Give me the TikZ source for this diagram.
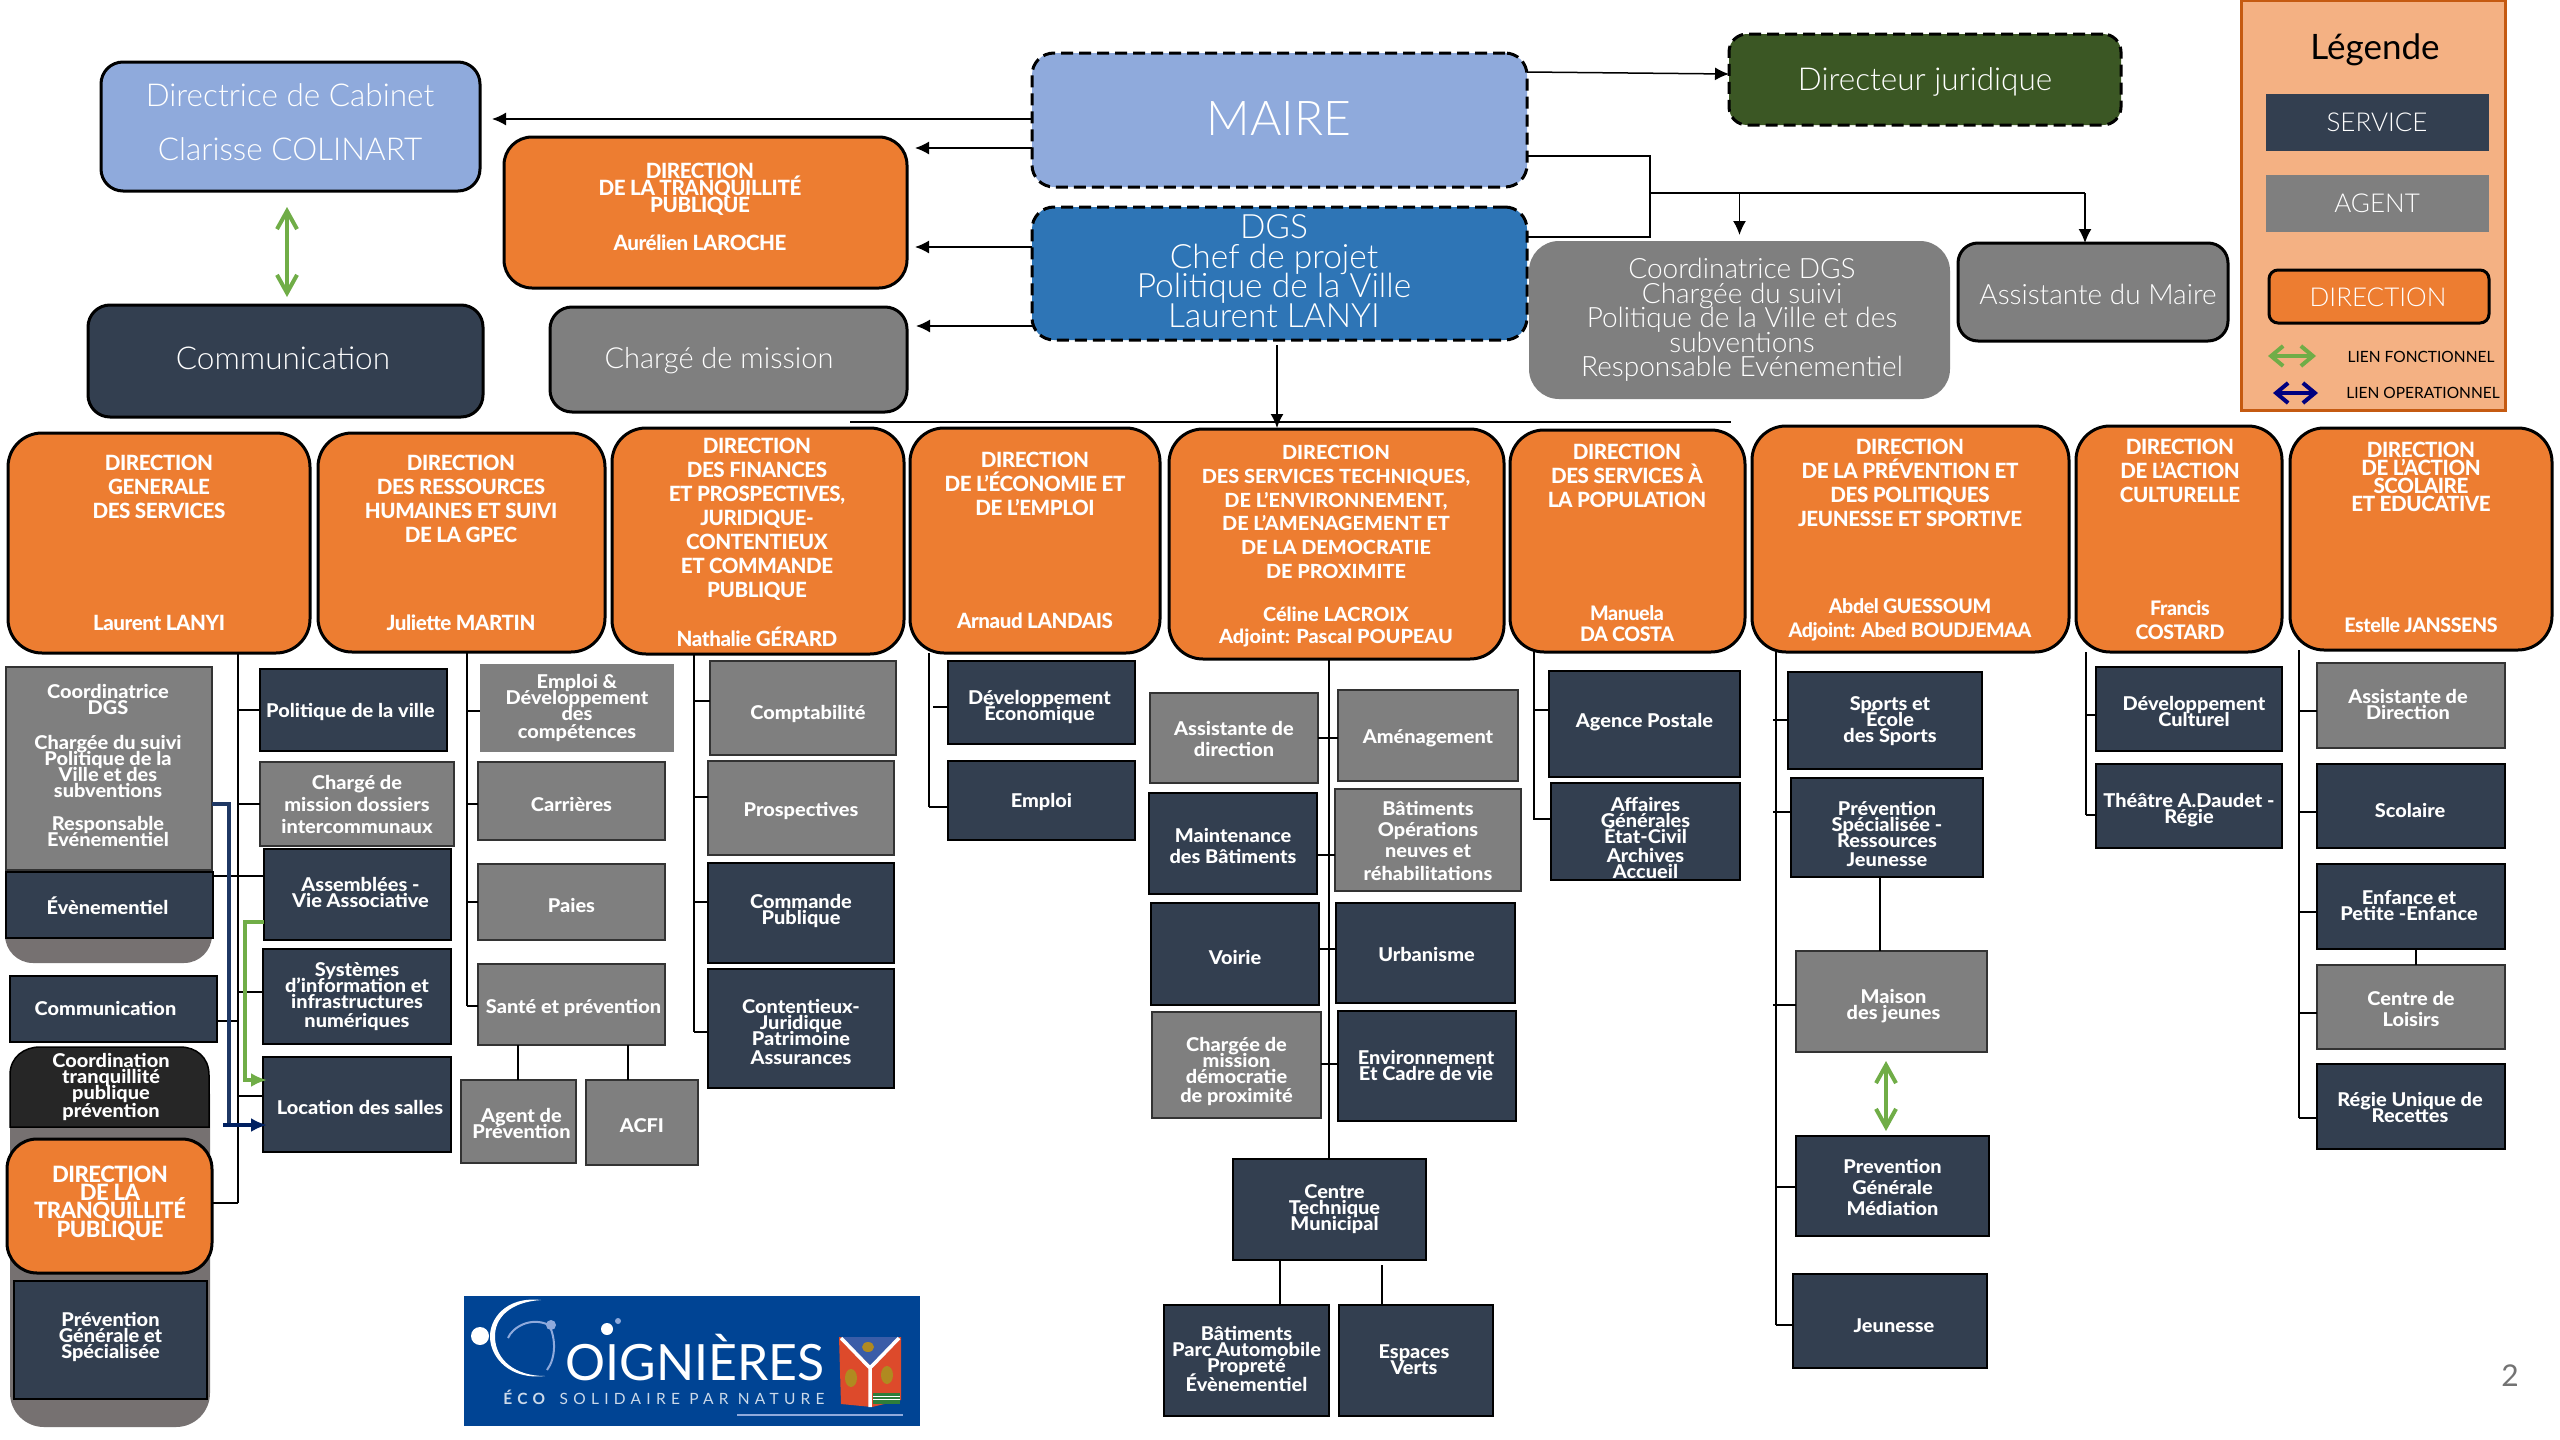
\documentclass[tikz,border=0pt]{standalone}
\usepackage{fontspec}
\usetikzlibrary{arrows.meta}
\setmainfont{Lato}
\newfontfamily\latoC[LetterSpace=-2,FakeStretch=0.98]{Lato Heavy}
\newfontfamily\latoD[FakeStretch=1.02]{Lato Heavy}
\newfontfamily\latoS[FakeStretch=1.05]{Lato Heavy}
\newfontfamily\latoL{Lato Light}
\newfontfamily\latoW[LetterSpace=34]{Lato}
\definecolor{navy}{HTML}{333F50}
\definecolor{agent}{HTML}{7F7F7F}
\definecolor{orange}{HTML}{ED7D31}
\definecolor{lblue}{HTML}{8FAADC}
\definecolor{dblue}{HTML}{2E75B6}
\definecolor{dgreen}{HTML}{3B5724}
\definecolor{legbg}{HTML}{F4B183}
\definecolor{legbd}{HTML}{C55A11}
\definecolor{under}{HTML}{767171}
\definecolor{gr}{HTML}{70AD47}
\definecolor{opblue}{HTML}{1F3864}
\definecolor{opblue2}{HTML}{002060}
\definecolor{logob}{HTML}{004494}
\definecolor{logop}{HTML}{8FAADC}
\definecolor{crestr}{HTML}{DD4A2B}
\definecolor{crestb}{HTML}{3A5DA8}
\definecolor{crestg}{HTML}{B08A20}
\definecolor{crestv}{HTML}{2E7D3A}
\newcommand\fs[2]{\fontsize{#1}{#2}\selectfont\lineskiplimit=-100pt\lineskip=0pt\relax}
% [dx,dy]{name}{box style}{x1}{y1}{x2}{y2}{text}
\newcommand\BX[8][0,0]{%
  \node[#3, minimum width={(#6)-(#4)}, minimum height={(#7)-(#5)}] (#2) at ({((#4)+(#6))/2},{((#5)+(#7))/2}) {};
  \node[lab] (#2t) at ([shift={(0,3)},shift={(#1)}]#2.center) {#8};}
\tikzset{
  x=1pt,y=-1pt,
  every node/.style={inner sep=0pt,outer sep=0pt},
  lab/.style={text=white,align=center,font=\latoS\fs{19}{16}},
  svc/.style={draw=black,line width=1.5pt,fill=navy},
  agt/.style={draw=black!80,line width=1.5pt,fill=agent},
  agtn/.style={fill=agent},
  dirb/.style={draw=black,line width=3pt,fill=orange,rounded corners=34pt},
  dirs/.style={draw=black,line width=3pt,fill=orange,rounded corners=28pt},
  dtt/.style={text=white,align=center,font=\latoC\fs{21}{24}},
  big/.style={text=white,align=center,font=\latoL\fs{31.5}{30}},
  cn/.style={draw=black,line width=1.5pt},
  arr/.style={cn,-{Latex[length=14pt,width=13pt]}},
  gd/.style={draw=gr,line width=4pt,{Straight Barb[length=18pt,width=20pt,line width=4pt]}-{Straight Barb[length=18pt,width=20pt,line width=4pt]}},
}
\begin{document}
\begin{tikzpicture}
\useasboundingbox (0,0) rectangle (2560,1440);
\fill[white] (0,0) rectangle (2560,1440);

% ---------- top level
\BX{cab}{draw=black,line width=3pt,fill=lblue,rounded corners=22pt}{101}{62}{480}{191}{}
\node[big] (cab1) at (290,95) {Directrice de Cabinet};
\node[big] (cab2) at (290,149) {Clarisse COLINART};
\BX{com}{draw=black,line width=3pt,fill=navy,rounded corners=22pt}{88}{305}{483}{417}{}
\node[big] (com1) at (283,358) {Communication};
\BX{tq}{dirs}{504}{137}{907}{288}{}
\node[dtt,font=\latoC\fs{21}{17}] (tq1) at (700,189) {DIRECTION\\DE LA TRANQUILLITÉ\\PUBLIQUE};
\node[dtt] (tq2) at (700,243) {Aurélien LAROCHE};
\BX{cm}{draw=black,line width=3pt,fill=agent,rounded corners=22pt}{550}{307}{907}{412}{}
\node[big,font=\latoL\fs{29}{30}] (cm1) at (719,361) {Chargé de mission};
\BX{maire}{draw=black,line width=3pt,dash pattern=on 12pt off 6pt,fill=lblue,rounded corners=22pt}{1032}{53}{1527}{187}{}
\node[big,font=\latoL\fs{48}{48}] (maire1) at (1279,119) {MAIRE};
\BX{dgs}{draw=black,line width=3pt,dash pattern=on 12pt off 6pt,fill=dblue,rounded corners=22pt}{1032}{207}{1527}{340}{}
\node[big,font=\latoL\fs{33.5}{29.5}] (dgs1) at (1274,271) {DGS\\Chef de projet\\Politique de la Ville\\Laurent LANYI};
\BX{jur}{draw=black,line width=3pt,dash pattern=on 12pt off 6pt,fill=dgreen,rounded corners=18pt}{1729}{34}{2121}{125}{}
\node[big] (jur1) at (1925,82) {Directeur juridique};
\BX{cod}{fill=agent,rounded corners=30pt}{1529}{241}{1950}{399}{}
\node[big,font=\latoL\fs{28}{24.5}] (cod1) at (1742,320) {Coordinatrice DGS\\Chargée du suivi\\Politique de la Ville et des\\subventions\\Responsable Evénementiel};
\BX{asm}{draw=black,line width=3pt,fill=agent,rounded corners=20pt}{1958}{243}{2228}{341}{}
\node[big,font=\latoL\fs{28}{28}] (asm1) at (2098,294) {Assistante du Maire};

% top connectors
\draw[arr] (maire.west |- 0,119) -- ([xshift=12pt]cab.east |- 0,119);
\draw[arr] (maire.west |- 0,148) -- ([xshift=8pt]tq.east |- 0,148);
\draw[arr] (dgs.west |- 0,247) -- ([xshift=8pt]tq.east |- 0,247);
\draw[arr] (dgs.west |- 0,326) -- ([xshift=9pt]cm.east |- 0,326);
\draw[arr] (maire.east |- 0,72) -- (jur.west |- 0,74);
\coordinate (sp) at (1650,193);
\coordinate (sp2) at (2085,193);
\draw[cn] (maire.east |- 0,156) -| (sp) |- (dgs.east |- 0,237);
\draw[cn,line width=2pt] (sp) -- (sp2);
\draw[arr] (cod.north |- sp) -- ([yshift=6pt]cod.north);
\draw[arr] (sp2) -- (sp2 |- asm.north);
\draw[arr] (dgs.south -| 1277,0) ++(0,5) -- (1277,428);
\draw[gd] (287,207) -- (287,297);
\draw[cn,line width=2pt] (850,422) -- (1731,422);

% ---------- directions
\BX{D1}{dirb}{8}{433}{310}{653}{}
\node[dtt] (D1a) at (159,487) {DIRECTION\\GENERALE\\DES SERVICES};
\node[dtt] (D1b) at (159,623) {Laurent LANYI};
\BX{D2}{dirb}{318}{433}{605}{652}{}
\node[dtt] (D2a) at (461,499) {DIRECTION\\DES RESSOURCES\\HUMAINES ET SUIVI\\DE LA GPEC};
\node[dtt] (D2b) at (461,623) {Juliette MARTIN};
\BX{D3}{dirb}{612}{428}{904}{654}{}
\node[dtt] (D3a) at (757,519) {DIRECTION\\DES FINANCES\\ET PROSPECTIVES,\\JURIDIQUE-\\CONTENTIEUX\\ET COMMANDE\\PUBLIQUE};
\node[dtt] (D3b) at (757,637) {Nathalie GÉRARD};
\BX{D4}{dirb}{910}{428}{1160}{653}{}
\node[dtt] (D4a) at (1035,484) {DIRECTION\\DE L’ÉCONOMIE ET\\DE L’EMPLOI};
\node[dtt] (D4b) at (1035,621) {Arnaud LANDAIS};
\BX{D5}{dirb}{1169}{429}{1504}{659}{}
\node[dtt,font=\latoD\fs{19.5}{23.8}] (D5a) at (1336,512) {DIRECTION\\DES SERVICES TECHNIQUES,\\DE L’ENVIRONNEMENT,\\DE L’AMENAGEMENT ET\\DE LA DEMOCRATIE\\DE PROXIMITE};
\node[dtt,font=\latoD\fs{19.5}{22}] (D5b) at (1336,627) {Céline LACROIX\\Adjoint: Pascal POUPEAU};
\BX{D6}{dirb}{1510}{430}{1745}{652}{}
\node[dtt] (D6a) at (1627,476) {DIRECTION\\DES SERVICES À\\LA POPULATION};
\node[dtt,font=\latoC\fs{20}{21}] (D6b) at (1627,624) {Manuela\\DA COSTA};
\BX{D7}{dirb}{1752}{426}{2069}{652}{}
\node[dtt] (D7a) at (1910,483) {DIRECTION\\DE LA PRÉVENTION ET\\DES POLITIQUES\\JEUNESSE ET SPORTIVE};
\node[dtt,font=\latoC\fs{20}{24}] (D7b) at (1910,620) {Abdel GUESSOUM\\Adjoint: Abed BOUDJEMAA};
\BX{D8}{dirb}{2076}{426}{2282}{652}{}
\node[dtt] (D8a) at (2180,471) {DIRECTION\\DE L’ACTION\\CULTURELLE};
\node[dtt,font=\latoC\fs{20}{24}] (D8b) at (2180,620) {Francis\\COSTARD};
\BX{D9}{dirb}{2290}{428}{2552}{650}{}
\node[dtt,font=\latoC\fs{21}{18}] (D9a) at (2421,477) {DIRECTION\\DE L’ACTION\\SCOLAIRE\\ET EDUCATIVE};
\node[dtt,font=\latoC\fs{20}{24}] (D9b) at (2421,625) {Estelle JANSSENS};

% ---------- column 1 underlays
\fill[under,rounded corners=28pt] (5,690) rectangle (212,963);
\fill[under,rounded corners=34pt] (10,1060) rectangle (210,1427);
\draw[draw=black,line width=1.5pt,fill=black!85] (10,1127) -- (10,1075) .. controls (10,1057) and (24,1047) .. (40,1047) -- (180,1047) .. controls (196,1047) and (209,1057) .. (209,1075) -- (209,1127) -- cycle;
\node[lab] (ctq) at (111,1087) {Coordination\\tranquillité\\publique\\[2pt]prévention};

\coordinate (tr1) at (238,1203);
\draw[cn] (D1.south -| tr1) -- (tr1);
\coordinate (tr2) at (467,1006);
\draw[cn] (D2.south -| tr2) -- (tr2);
\coordinate (tr3) at (694,1032);
\draw[cn] (D3.south -| tr3) -- (tr3);
\coordinate (tr4) at (929,807);
\draw[cn] (D4.south -| tr4) -- (tr4);
\coordinate (tr5) at (1329,1159);
\draw[cn] (D5.south -| tr5) -- (tr5);
\coordinate (tr6) at (1534,820);
\draw[cn] (D6.south -| tr6) -- (tr6);
\coordinate (tr7) at (1776,1325);
\draw[cn] (D7.south -| tr7) -- (tr7);
\coordinate (tr8) at (2086,815);
\draw[cn] (D8.south -| tr8) -- (tr8);
\coordinate (tr9) at (2299,1118);
\draw[cn] (D9.south -| tr9) -- (tr9);

% ---------- column 1
\BX{a1}{agt}{6}{667}{212}{870}{}
\node[lab] (a1t) at (108,765) {Coordinatrice\\DGS\\[19pt]Chargée du suivi\\Politique de la\\Ville et des\\subventions\\[17pt]Responsable\\Evénementiel};
\BX[-2,-2]{a2}{svc}{6}{872}{213}{938}{Évènementiel}
\BX[-8,-4]{a3}{svc}{10}{976}{217}{1042}{Communication}
\BX{a4}{draw=black,line width=3pt,fill=orange,rounded corners=30pt}{7}{1139}{212}{1273}{}
\node[dtt,font=\latoC\fs{22.5}{18.3}] (a4t) at (110,1203) {DIRECTION\\DE LA\\TRANQUILLITÉ\\PUBLIQUE};
\BX[0,-6]{a5}{svc}{14}{1281}{207}{1399}{Prévention\\Générale et\\Spécialisée}
\draw[cn] (a2.east |- 0,876) -- (tr1 |- 0,876);
\draw[cn] (a3.east |- 0,1021) -- (tr1 |- 0,1021);
\draw[cn] (a4.east |- tr1) -- (tr1);

% ---------- column 2
\BX[-3,-1]{b1}{svc}{260}{669}{447}{751}{Politique de la ville}
\BX[0,-3]{b2}{agt}{260}{762}{454}{846}{Chargé de\\[6pt]mission dossiers\\[6pt]intercommunaux}
\BX[3,-5]{b3}{svc}{264}{849}{451}{940}{Assemblées -\\Vie Associative}
\BX[0,-3]{b4}{svc}{263}{949}{451}{1044}{Systèmes\\d’information et\\infrastructures\\[3pt]numériques}
\BX[3,0]{b5}{svc}{263}{1057}{451}{1152}{Location des salles}
\draw[cn] (tr1 |- b1.west) -- (b1.west);
\draw[cn] (tr1 |- b2.west) -- (b2.west);
\draw[cn] (tr1 |- 0,876) -- (b3.west |- 0,876);
\draw[cn] (tr1 |- 0,992) -- (b4.west |- 0,992);
\draw[cn] (tr1 |- 0,1096) -- (b5.west |- 0,1096);
\coordinate (op1) at (229,804);
\coordinate (op2) at (229,1125);
\coordinate (op3) at (223,1125);
\draw[draw=opblue,line width=4pt] (a1.east |- op1) -- (op1) -- (op2);
\draw[draw=opblue2,line width=4pt,-{Latex[length=16pt,width=14pt]}] (op3) -- ([xshift=4pt]b5.west |- op3);
\coordinate (fn1) at (245,922);
\coordinate (fn2) at (245,1080);
\draw[draw=gr,line width=4pt,-{Latex[length=16pt,width=14pt]}] (b3.west |- fn1) -- (fn1) -- (fn2) -- ([xshift=4pt]b5.west |- fn2);

% ---------- RH
\BX[0,-3]{c1}{agtn}{480}{664}{674}{752}{Emploi \&\\Développement\\des\\[2pt]compétences}
\BX{c2}{agt}{478}{762}{665}{840}{Carrières}
\BX{c3}{agt}{478}{864}{665}{940}{Paies}
\BX[2,0]{c4}{agt}{478}{964}{665}{1045}{Santé et prévention}
\BX[3,-1]{c5}{agt}{461}{1080}{576}{1163}{Agent de\\Prévention}
\BX{c6}{agt}{586}{1080}{698}{1165}{ACFI}
\draw[cn] (tr2 |- 0,711) -- (c1.west |- 0,711);
\draw[cn] (tr2 |- 0,804) -- (c2.west |- 0,804);
\draw[cn] (tr2 |- 0,902) -- (c3.west |- 0,902);
\draw[cn] (tr2 |- 0,1006) -- (c4.west |- 0,1006);
\draw[cn] (c4.south -| 518,0) -- (c5.north -| 518,0);
\draw[cn] (c4.south -| 628,0) -- (c6.north -| 628,0);

% ---------- Finances
\BX[5,3]{f1}{agt}{710}{661}{896}{755}{Comptabilité}
\BX{f2}{agt}{708}{761}{894}{855}{Prospectives}
\BX[0,-5]{f3}{svc}{708}{863}{894}{963}{Commande\\Publique}
\BX[0,0]{f4}{svc}{708}{969}{894}{1088}{Contentieux-\\Juridique\\Patrimoine\\[3pt]Assurances}
\draw[cn] (tr3 |- 0,701) -- (f1.west |- 0,701);
\draw[cn] (tr3 |- 0,797) -- (f2.west |- 0,797);
\draw[cn] (tr3 |- 0,902) -- (f3.west |- 0,902);
\draw[cn] (tr3 |- 0,1032) -- (f4.west |- 0,1032);

% ---------- Economie
\BX[-2,1]{e1}{svc}{948}{661}{1135}{744}{Développement\\Économique}
\BX[0,-2]{e2}{svc}{948}{761}{1135}{840}{Emploi}
\draw[cn] (933,707) -- (e1.west |- 0,707);
\draw[cn] (tr4) -- (e2.west |- tr4);

% ---------- Services techniques
\BX[0,-2]{g1}{agt}{1150}{693}{1318}{783}{Assistante de\\[5pt]direction}
\BX{g2}{agt}{1338}{690}{1518}{781}{Aménagement}
\BX[0,-1]{g3}{svc}{1149}{793}{1317}{894}{Maintenance\\[5pt]des Bâtiments}
\BX[0,-2]{g4}{agt}{1335}{789}{1521}{891}{Bâtiments\\[5pt]Opérations\\[5pt]neuves et\\[7pt]réhabilitations}
\BX{g5}{svc}{1151}{903}{1319}{1005}{Voirie}
\BX[1,-2]{g6}{svc}{1336}{903}{1515}{1003}{Urbanisme}
\BX[0,3.5]{g7}{agt}{1152}{1012}{1321}{1118}{Chargée de\\mission\\démocratie\\[3pt]de proximité}
\BX[-1,-4]{g8}{svc}{1338}{1011}{1516}{1121}{Environnement\\Et Cadre de vie}
\BX[5,-3]{g9}{svc}{1233}{1159}{1426}{1260}{Centre\\Technique\\Municipal}
\BX[0,-5]{g10}{svc}{1164}{1305}{1329}{1416}{Bâtiments\\Parc Automobile\\Propreté\\[3pt]Évènementiel}
\BX[-2,-3.5]{g11}{svc}{1339}{1305}{1493}{1416}{Espaces\\Verts}
\draw[cn] (g1.east |- 0,738) -- (g2.west |- 0,738);
\draw[cn] (g3.east |- 0,855) -- (g4.west |- 0,855);
\draw[cn] (g5.east |- 0,949) -- (g6.west |- 0,949);
\draw[cn] (g7.east |- 0,1064) -- (g8.west |- 0,1064);
\draw[cn] (g9.south -| 1280,0) -- (g10.north -| 1280,0);
\draw[cn] (1382,1265) -- (g11.north -| 1382,0);

% ---------- Population
\BX[0,-4.4]{h1}{svc}{1549}{671}{1740}{777}{Agence Postale}
\BX[0,3]{h2}{svc}{1551}{783}{1740}{880}{Affaires\\Générales\\État-Civil\\[3pt]Archives\\Accueil}
\draw[cn] (tr6 |- 0,710) -- (h1.west |- 0,710);
\draw[cn] (tr6 |- 0,819) -- (h2.west |- 0,819);

% ---------- Prevention
\BX[5,-2.4]{i1}{svc}{1788}{672}{1982}{769}{Sports et\\École\\des Sports}
\BX[0,3.5]{i2}{svc}{1791}{778}{1983}{877}{Prévention\\Spécialisée -\\Ressources\\[3pt]Jeunesse}
\BX[2,2]{i3}{agt}{1796}{951}{1987}{1052}{Maison\\des jeunes}
\BX[0,-2]{i4}{svc}{1796}{1136}{1989}{1236}{Prevention\\[5pt]Générale\\[5pt]Médiation}
\BX[4,2]{i5}{svc}{1793}{1274}{1987}{1368}{Jeunesse}
\draw[cn] (1773,720) -- (i1.west |- 0,720);
\draw[cn] (1773,812) -- (i2.west |- 0,812);
\draw[cn] (1773,1005) -- (i3.west |- 0,1005);
\draw[cn] (tr7 |- 0,1187) -- (i4.west |- 0,1187);
\draw[cn] (tr7) -- (i5.west |- tr7);
\draw[cn] (i2.south -| 1880,0) -- (i3.north -| 1880,0);
\draw[gd] (1886,1061) -- (1886,1131);

% ---------- Culture
\BX[5,-0.5]{j1}{svc}{2096}{667}{2282}{751}{Développement\\Culturel}
\BX[0,1]{j2}{svc}{2096}{764}{2282}{848}{Théâtre A.Daudet -\\Régie}
\draw[cn] (tr8 |- 0,715) -- (j1.west |- 0,715);
\draw[cn] (tr8) -- (j2.west |- tr8);

% ---------- Scolaire
\BX[-3,-4]{k1}{agt}{2317}{663}{2505}{748}{Assistante de\\Direction}
\BX[-1,1.5]{k2}{svc}{2317}{764}{2505}{848}{Scolaire}
\BX[-2,-4]{k3}{svc}{2317}{864}{2505}{949}{Enfance et\\Petite -Enfance}
\BX[0,-1]{k4}{agt}{2317}{965}{2505}{1049}{Centre de\\[5pt]Loisirs}
\BX[-1,-2]{k5}{svc}{2317}{1064}{2505}{1149}{Régie Unique de\\Recettes}
\draw[cn] (tr9 |- 0,711) -- (k1.west |- 0,711);
\draw[cn] (tr9 |- 0,812) -- (k2.west |- 0,812);
\draw[cn] (tr9 |- 0,912) -- (k3.west |- 0,912);
\draw[cn] (tr9 |- 0,1013) -- (k4.west |- 0,1013);
\draw[cn] (tr9) -- (k5.west |- tr9);
\draw[cn] (k3.south -| 2416,0) -- (k4.north -| 2416,0);

% ---------- legend
\node[draw=legbd,line width=3pt,fill=legbg,minimum width=264pt,minimum height=410pt] (leg) at (2373,205) {};
\node[text=black,font=\fs{35}{35}] (leg0) at (2375,50) {Légende};
\BX{l1}{fill=navy}{2266}{94}{2489}{151}{}
\node[big,font=\latoL\fs{26}{26}] (l1t) at (2377,122) {SERVICE};
\BX{l2}{fill=agent}{2266}{175}{2489}{232}{}
\node[big,font=\latoL\fs{26}{26}] (l2t) at (2377,203) {AGENT};
\BX{l3}{draw=black,line width=3pt,fill=orange,rounded corners=9pt}{2269}{270}{2489}{323}{}
\node[big,font=\latoL\fs{26}{26}] (l3t) at (2378,297) {DIRECTION};
\coordinate (lg1) at (2268,356); \coordinate (lg2) at (2316,356);
\draw[draw=gr,line width=4pt,{Straight Barb[length=12pt,width=20pt,line width=4pt]}-{Straight Barb[length=12pt,width=20pt,line width=4pt]}] (lg1) -- (lg2);
\coordinate (lb1) at (2273,393); \coordinate (lb2) at (2318,393);
\draw[draw=blue!50!black,line width=4pt,{Straight Barb[length=12pt,width=20pt,line width=4pt]}-{Straight Barb[length=12pt,width=20pt,line width=4pt]}] (lb1) -- (lb2);
\node[font=\fs{15.5}{15.5}] (lt1) at (2421,357) {LIEN FONCTIONNEL};
\node[font=\fs{15.5}{15.5}] (lt2) at (2423,393) {LIEN OPERATIONNEL};

% ---------- logo
\fill[logob] (464,1296) rectangle (920,1426);
\fill[white] (541,1300) .. controls (505,1296) and (489,1320) .. (490,1338) .. controls (491,1358) and (510,1380) .. (545,1376) .. controls (515,1376) and (496,1360) .. (495,1338) .. controls (494,1318) and (510,1302) .. (541,1300);
\fill[white] (480,1336) circle[radius=9pt];
\draw[logop,line width=2pt] (508,1338) .. controls (512,1328) and (530,1316) .. (549,1325) .. controls (556,1338) and (556,1358) .. (547,1370);
\fill[logop] (551,1325) circle[radius=5pt];
\fill[white] (607,1329) circle[radius=6pt];
\fill[logop] (618,1321) circle[radius=3pt];
\node[text=white,font=\fs{50}{50}] (logo1) at (695,1358) {OIGNIÈRES};
\node[text=white!80!logob,font=\latoW\fs{15.5}{16}] (logo2) at (664,1397) {\textbf{ÉCO} SOLIDAIRE PAR NATURE};
\draw[logop,line width=1.5pt] (737,1415) -- (903,1415);
% crest
\fill[crestr] (839,1337) -- (901,1337) -- (901,1400) -- (872,1407) -- (841,1404) -- cycle;
\fill[crestb] (841,1337) -- (899,1337) -- (871,1366) -- cycle;
\fill[crestv] (873,1393) rectangle (900,1404);
\draw[white,line width=1pt] (873,1396) -- (900,1396) (873,1399) -- (900,1399);
\draw[white,line width=3.5pt] (841,1338) -- (870,1368) -- (899,1338) (870,1368) -- (870,1407);
\fill[crestg] (851,1378) ellipse[x radius=6pt,y radius=9pt];
\fill[crestg] (887,1375) ellipse[x radius=6pt,y radius=9pt];
\fill[crestg] (868,1347) ellipse[x radius=6pt,y radius=5pt];

\node[text=black!55,font=\fs{30}{30}] (pg) at (2510,1376) {2};
\end{tikzpicture}
\end{document}
